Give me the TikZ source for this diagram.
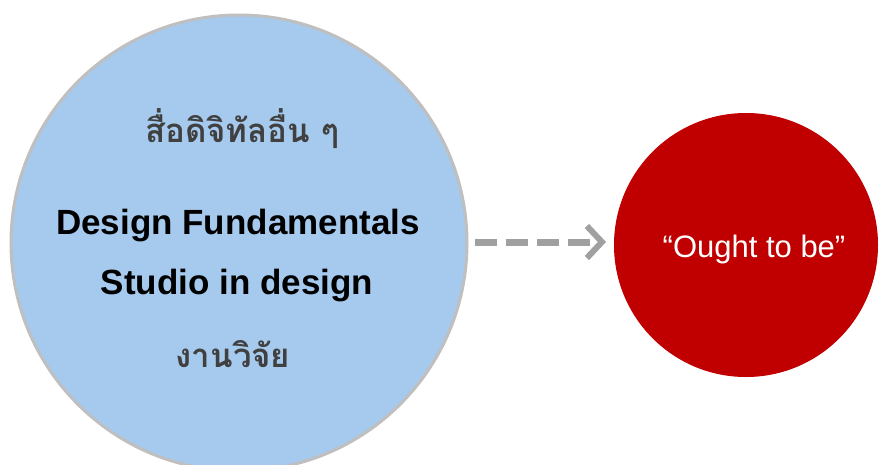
\documentclass[tikz,border=0pt]{standalone}
\usepackage{fontspec}
\setmainfont{Liberation Sans}
\newfontfamily\thaifont[Script=Thai]{Loma}
\usetikzlibrary{arrows.meta}
\definecolor{bluefill}{HTML}{A6CAEE}
\definecolor{rimgray}{HTML}{BFBFBF}
\definecolor{darkred}{HTML}{C00000}
\definecolor{textgray}{HTML}{404040}
\definecolor{arrowgray}{HTML}{A0A0A0}
\begin{document}
\begin{tikzpicture}[x=1pt,y=-1pt,
  thaitext/.style={font=\thaifont\bfseries\fontsize{33}{36}\selectfont, text=textgray, anchor=base, inner sep=0pt},
  entext/.style={font=\bfseries\fontsize{35}{40}\selectfont, text=black, anchor=base, inner sep=0pt}]
\useasboundingbox (0,0) rectangle (884,464);
\begin{scope}
\clip (0,0) rectangle (884,464);
\node[circle, draw=rimgray, line width=3pt, fill=bluefill, minimum size=456pt, inner sep=0pt] (big) at (239,243) {};
\node[circle, draw=darkred, line width=1pt, fill=darkred, minimum size=263pt, inner sep=0pt] (red) at (746,245) {};
\end{scope}
\node[thaitext] (t1) at (242,142) {สื่อดิจิทัลอื่น ๆ};
\node[entext] (t2) at (238,234) {Design Fundamentals};
\node[entext] (t3) at (237,294) {Studio in design};
\node[thaitext] (t4) at (233,367) {งานวิจัย};
\node[font=\fontsize{31}{36}\selectfont, text=white, anchor=base, inner sep=0pt] (t5) at (754,257) {“Ought to be”};
\coordinate (a1) at (475,242);
\coordinate (a2) at (606,242);
\draw[arrowgray, line width=7pt, dash pattern=on 22pt off 9pt, -{Straight Barb[length=15pt,width=32pt,line width=6pt]}] (a1) -- (a2);
\end{tikzpicture}
\end{document}
